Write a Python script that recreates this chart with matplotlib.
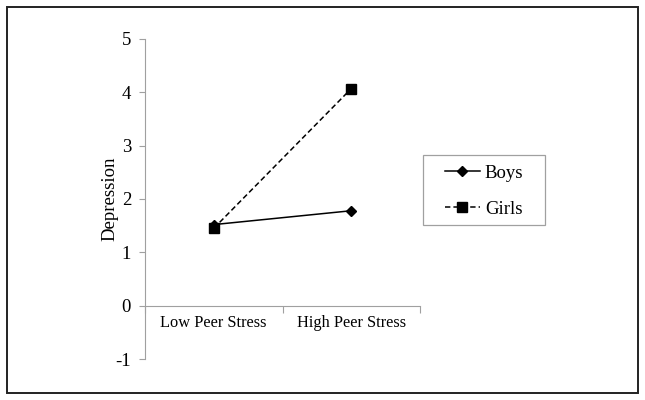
import matplotlib
matplotlib.use('Agg')
import matplotlib.pyplot as plt
from matplotlib.patches import Rectangle

plt.rcParams['font.family'] = ['Liberation Serif', 'DejaVu Serif']

categories = ['Low Peer Stress', 'High Peer Stress']
boys = [1.52, 1.78]
girls = [1.45, 4.07]
yticks = [-1, 0, 1, 2, 3, 4, 5]

axis_col = '#a0a0a0'
W, H = 645, 400

fig = plt.figure(figsize=(6.45, 4.0), dpi=100)
# outer frame
fig.patches.append(Rectangle((7 / W, 7 / H), 631 / W, 386 / H, transform=fig.transFigure,
                             fill=False, edgecolor='#222222', linewidth=1.4))

ax = fig.add_axes([145 / W, 1 - 359 / H, 275 / W, 320 / H])
xpos = [0.5, 1.5]
ax.plot(xpos, boys, color='black', linestyle='-', linewidth=1.1, marker='D', markersize=5, label='Boys')
ax.plot(xpos, girls, color='black', linestyle=(0, (3.5, 2)), linewidth=1.1, marker='s', markersize=6.5, label='Girls')

ax.set_xlim(0, 2)
ax.set_ylim(-1, 5)
ax.set_yticks(yticks)
ax.set_yticklabels([str(v) for v in yticks])
ax.set_xticks([0, 1, 2])
ax.set_xticklabels([])
ax.set_xticks(xpos, minor=True)
ax.set_xticklabels(categories, minor=True)
ax.tick_params(axis='x', which='minor', length=0, pad=7, labelsize=11.8)
ax.tick_params(axis='x', which='major', length=5, color=axis_col, direction='out')
ax.tick_params(axis='y', length=4, color=axis_col, pad=6, labelsize=13.5)

for s in ['top', 'right']:
    ax.spines[s].set_visible(False)
ax.spines['bottom'].set_position(('data', 0))
ax.spines['bottom'].set_color(axis_col)
ax.spines['left'].set_color(axis_col)
ax.set_ylabel('Depression', fontsize=13.5)
ax.yaxis.set_label_coords(-27 / 275, 0.5)

# legend box drawn separately so padding matches
fig.patches.append(Rectangle((423 / W, 1 - 225 / H), 122 / W, 70 / H, transform=fig.transFigure,
                             fill=False, edgecolor=axis_col, linewidth=0.9))
fig.legend(loc='center', bbox_to_anchor=(484 / W, 1 - 191 / H), numpoints=1,
           frameon=False, fontsize=13.5, handlelength=1.9,
           labelspacing=1.0, borderpad=0, handletextpad=0.25, borderaxespad=0)

fig.savefig('out.png', dpi=100)
